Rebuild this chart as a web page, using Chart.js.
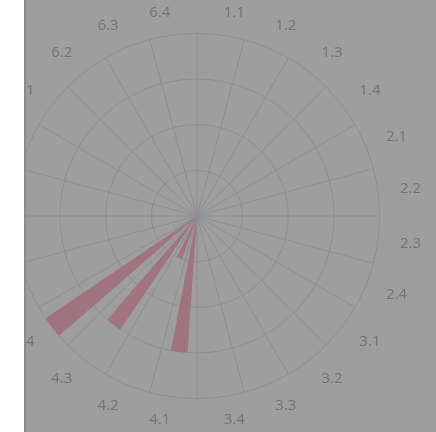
<!DOCTYPE html>
<html>
<head>
<meta charset="utf-8">
<script src="https://cdn.jsdelivr.net/npm/chart.js@4/dist/chart.umd.min.js"></script>
<style>
  body { margin: 0; background: #fff; }
  #panel { position: absolute; left: 24px; top: 0; width: 410px; height: 432px;
           overflow: hidden; background: #9e9e9e; border-left: 2px solid #8a8a8a; }
  #myChart { position: absolute; left: -53px; top: 0; }
</style>
</head>
<body>
<div id="panel">
  <canvas id="myChart" width="448" height="432"></canvas>
</div>
<script>
// categories around the circle
var labels = ['1.1','1.2','1.3','1.4','2.1','2.2','2.3','2.4',
              '3.1','3.2','3.3','3.4','4.1','4.2','4.3','4.4',
              '5.1','5.2','5.3','5.4','6.1','6.2','6.3','6.4']
// one value per category
var values = [0,0,0,0,0,0,0,0,
              0,0,0,0,3,1,3,4,
              0,0,0,0,0,0,0,0]

// each sector is 15 deg, the bar only takes the middle part of it
var sector = 360 / labels.length
var barAngle = 7
var gap = sector - barAngle

// gap / bar pairs so the bars sit in the middle of each sector
var data = []
for (var i = 0; i < values.length; i++) {
    data.push(0)
    data.push(values[i])
}

let ctx = document.getElementById('myChart').getContext('2d');
let myChart = new Chart(ctx, {
    type: 'polarArea',
    data: {
        labels: labels,
        datasets: [{
            data: data,
            backgroundColor: '#a0747e',
            borderWidth: 0,
            angle: function (c) {
                if (c.dataIndex === 0) return gap / 2
                return c.dataIndex % 2 ? barAngle : gap
            }
        }]
    },
    options: {
        responsive: false,
        animation: false,
        plugins: { legend: { display: false }, tooltip: { enabled: false } },
        scales: {
            r: {
                beginAtZero: true,
                ticks: { display: false, stepSize: 1 },
                grid: { circular: true, color: '#8e8e98' },
                angleLines: { display: true, color: '#8e8e94' },
                pointLabels: {
                    display: true,
                    centerPointLabels: true,
                    padding: 22,
                    color: '#727272',
                    // tiny line height keeps the labels vertically centred on their point
                    font: { family: 'Open Sans', size: 15, lineHeight: 0.1 }
                }
            }
        }
    }
});
</script>
</body>
</html>
